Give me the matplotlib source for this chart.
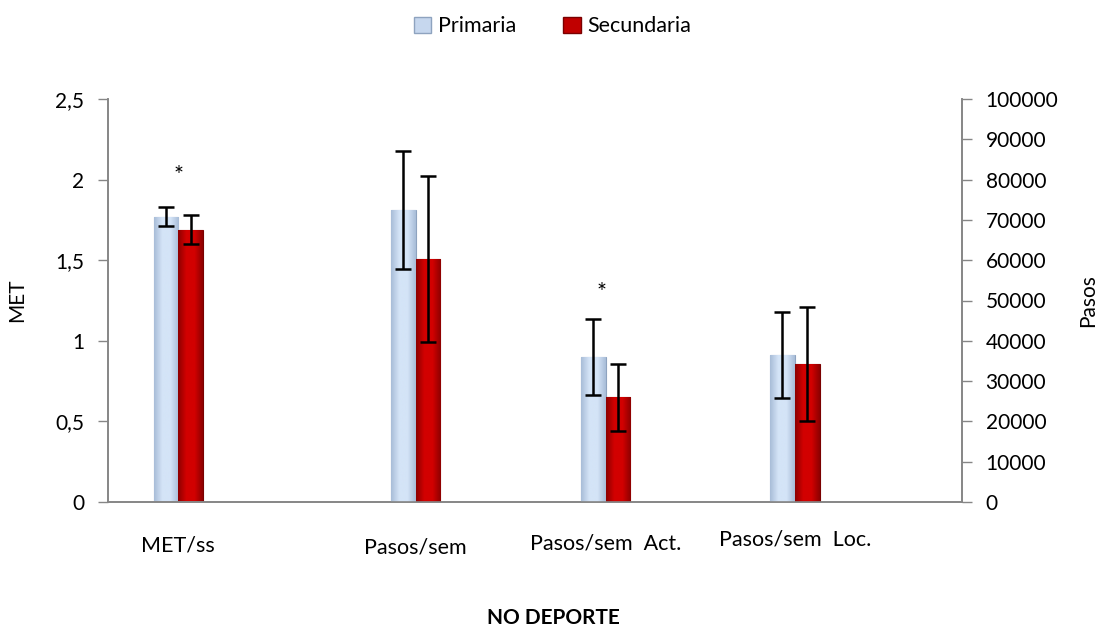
import numpy as np
import matplotlib
matplotlib.use("Agg")
import matplotlib.pyplot as plt
from matplotlib.patches import Patch
from matplotlib.colors import LinearSegmentedColormap

plt.rcParams['font.family'] = ['Lato', 'DejaVu Sans']

# --- data ---------------------------------------------------------------
categories = ["MET/ss", "Pasos/sem", "Pasos/sem  Act.", "Pasos/sem  Loc."]
series_names = ["Primaria", "Secundaria"]

# MET/ss (left axis)
met_primaria = 1.77
met_secundaria = 1.69
met_err_primaria = 0.06
met_err_secundaria = 0.09

# steps per week (right axis)
pasos_primaria = [72500, 36000, 36500]
pasos_secundaria = [60300, 26000, 34200]
pasos_err_primaria = [14700, 9500, 10700]
pasos_err_secundaria = [20600, 8300, 14200]

met_ticks = [0, 0.5, 1, 1.5, 2, 2.5]
met_ticklabels = ["0", "0,5", "1", "1,5", "2", "2,5"]
pasos_ticks = list(range(0, 100001, 10000))

# --- layout -------------------------------------------------------------
x_pos = np.array([0.37, 1.62, 2.62, 3.615])
bar_w = 0.13
label_y = [-0.107, -0.114, -0.102, -0.094]

face = {"Primaria": ("#a9bdd8", "#d4e4f7"), "Secundaria": ("#8e0000", "#d20000")}
edge = {"Primaria": "#8ea3bf", "Secundaria": "#7a0000"}

fig = plt.figure(figsize=(11.05, 6.28), dpi=100)
ax = fig.add_axes([108 / 1105, 1 - 502 / 628, 854 / 1105, 403 / 628])
ax2 = ax.twinx()


def bevel_bar(axis, x, h, name):
    lo, hi = face[name]
    cmap = LinearSegmentedColormap.from_list(name, [lo, hi, hi, lo])
    bars = axis.bar(x, h, width=bar_w, color=hi, edgecolor=edge[name],
                    linewidth=0.8, zorder=2)
    patch = bars[0]
    grad = np.linspace(0, 1, 64).reshape(1, -1)
    im = axis.imshow(grad, cmap=cmap, aspect="auto", zorder=2.1,
                     extent=[x - bar_w / 2, x + bar_w / 2, 0, h],
                     interpolation="bilinear")
    im.set_clip_path(patch)
    return patch


err_kw = dict(fmt="none", ecolor="black", elinewidth=1.8, capsize=6,
              capthick=1.8, zorder=4)

# MET/ss on left axis
bevel_bar(ax, x_pos[0] - bar_w / 2, met_primaria, "Primaria")
bevel_bar(ax, x_pos[0] + bar_w / 2, met_secundaria, "Secundaria")
ax.errorbar([x_pos[0] - bar_w / 2], [met_primaria], yerr=[met_err_primaria], **err_kw)
ax.errorbar([x_pos[0] + bar_w / 2], [met_secundaria], yerr=[met_err_secundaria], **err_kw)

# steps on right axis
for i in range(3):
    xc = x_pos[i + 1]
    bevel_bar(ax2, xc - bar_w / 2, pasos_primaria[i], "Primaria")
    bevel_bar(ax2, xc + bar_w / 2, pasos_secundaria[i], "Secundaria")
    ax2.errorbar([xc - bar_w / 2], [pasos_primaria[i]], yerr=[pasos_err_primaria[i]], **err_kw)
    ax2.errorbar([xc + bar_w / 2], [pasos_secundaria[i]], yerr=[pasos_err_secundaria[i]], **err_kw)

ax.set_xlim(0, 4.495)
ax2.set_xlim(0, 4.495)
ax.set_ylim(0, 2.5)
ax2.set_ylim(0, 100000)

# significance marks
ax.text(x_pos[0], met_primaria + met_err_primaria + 0.13, "*",
        ha="center", va="bottom", fontsize=17)
ax2.text(x_pos[2] - 0.02, pasos_primaria[1] + pasos_err_primaria[1] + 3800, "*",
         ha="center", va="bottom", fontsize=17)

# axes styling
spine_c = "#868686"
for a in (ax, ax2):
    a.spines["top"].set_visible(False)
    for s in ("left", "right", "bottom"):
        a.spines[s].set_color(spine_c)
        a.spines[s].set_linewidth(1.2)
    a.tick_params(axis="y", colors=spine_c, labelcolor="black", length=7,
                  width=1.0, labelsize=15, pad=10)

ax.set_yticks(met_ticks)
ax.set_yticklabels(met_ticklabels)
ax2.set_yticks(pasos_ticks)
ax2.set_yticklabels([str(t) for t in pasos_ticks])
ax.set_xticks([])
ax2.set_xticks([])

ax.set_ylabel("MET", fontsize=15, labelpad=20)
ax2.set_ylabel("Pasos", fontsize=15, labelpad=14)

# category labels
for xc, lab, yy in zip(x_pos, categories, label_y):
    ax.text(xc, yy, lab, transform=ax.get_xaxis_transform(),
            ha="center", va="center", fontsize=15.5)

fig.text(553 / 1105, 1 - 618 / 628, "NO DEPORTE", ha="center", va="center",
         fontsize=15, fontweight="bold")

handles = [Patch(facecolor="#c6d7ee", edgecolor=edge["Primaria"], label="Primaria"),
           Patch(facecolor="#c00000", edgecolor=edge["Secundaria"], label="Secundaria")]
fig.legend(handles=handles, loc="upper center", bbox_to_anchor=(0.5, 1.005), ncol=2,
           frameon=False, fontsize=15.5, handlelength=0.8, handleheight=0.8,
           handletextpad=0.3, columnspacing=2.2)

fig.savefig("out.png", dpi=100)
